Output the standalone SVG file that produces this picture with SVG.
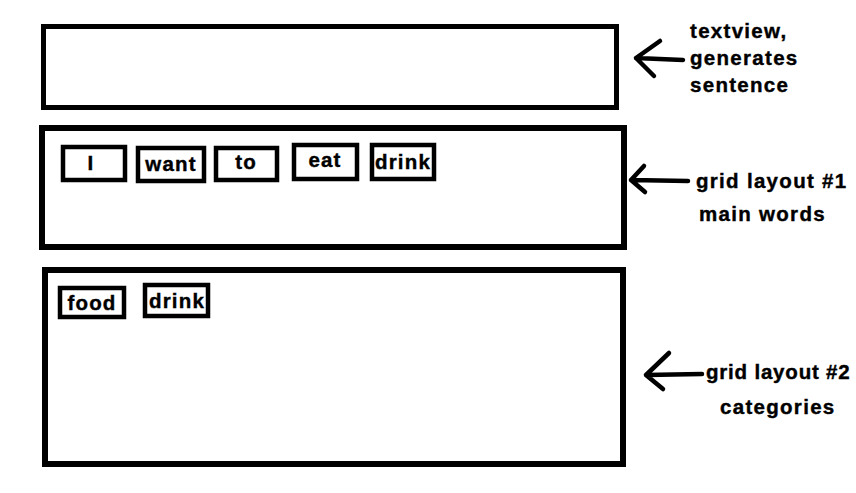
<svg xmlns="http://www.w3.org/2000/svg" width="856" height="493" viewBox="0 0 856 493">
<style>
.frame{fill:#fff;stroke:#000;stroke-width:6}
.chip{fill:#fff;stroke:#000;stroke-width:4.5}
.w{font-family:"Liberation Sans",Arial,sans-serif;font-weight:bold;font-size:20.5px;letter-spacing:1.2px;fill:#000;stroke:#000;stroke-width:0.4;text-anchor:middle}
.lbl{font-family:"Liberation Sans",Arial,sans-serif;font-weight:bold;font-size:20.5px;letter-spacing:1.3px;fill:#000;stroke:#000;stroke-width:0.4}
.arr{fill:none;stroke:#000;stroke-width:4.5;stroke-linecap:round;stroke-linejoin:round}
</style>
<rect width="856" height="493" fill="#fff"/>
<g id="textview">
<rect class="frame" x="43.5" y="26.5" width="573" height="81" style="stroke-width:5"/>
</g>
<g id="grid1">
<rect class="frame" x="42" y="128" width="582" height="119"/>
</g>
<g id="grid2">
<rect class="frame" x="45" y="270" width="578" height="194"/>
</g>
<g id="w-I"><rect class="chip" x="63" y="147" width="62" height="33"/><text class="w" x="91" y="170">I</text></g>
<g id="w-want"><rect class="chip" x="138" y="148" width="66" height="33"/><text class="w" x="171" y="171">want</text></g>
<g id="w-to"><rect class="chip" x="216" y="148" width="61" height="32"/><text class="w" x="246" y="169">to</text></g>
<g id="w-eat"><rect class="chip" x="294" y="145" width="63" height="34"/><text class="w" x="325" y="167">eat</text></g>
<g id="w-drink"><rect class="chip" x="372" y="145" width="62" height="34"/><text class="w" x="403" y="169">drink</text></g>
<g id="c-food"><rect class="chip" x="60" y="288" width="64" height="29"/><text class="w" x="92" y="310">food</text></g>
<g id="c-drink"><rect class="chip" x="145" y="285" width="63" height="31"/><text class="w" x="177" y="308">drink</text></g>
<g id="label1">
<text class="lbl" x="690" y="38">textview,</text>
<text class="lbl" x="690" y="65">generates</text>
<text class="lbl" x="690" y="92">sentence</text>
</g>
<g id="label2">
<text class="lbl" x="696" y="188">grid layout #1</text>
<text class="lbl" x="699" y="221">main words</text>
</g>
<g id="label3">
<text class="lbl" x="706" y="379" style="letter-spacing:0.8px">grid layout #2</text>
<text class="lbl" x="720" y="414">categories</text>
</g>
<g id="connectors">
<path class="arr" d="M683 60 L636 58 M660 41 L636 58 L654 76"/>
<path class="arr" d="M688 181 L631 180 M644 166 L631 180 L645 192"/>
<path class="arr" d="M702 374 L646 375 M669 353 L646 375 L663 389"/>
</g>
</svg>
